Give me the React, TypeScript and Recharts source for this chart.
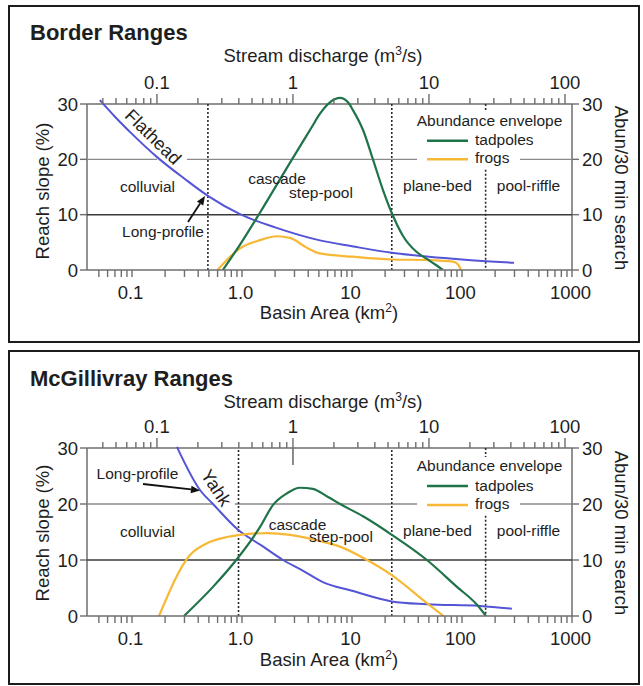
import React from 'react';
import { LineChart, Line, XAxis, YAxis, ReferenceLine } from 'recharts';

type Pt = [number, number];

// ---------- axes ----------
const areaMajorTicks = [0.1, 1, 10, 100, 1000];
const areaMajorLabels = ['0.1', '1.0', '10', '100', '1000'];
const areaMinorTicks = [
  0.05, 0.06, 0.07, 0.08, 0.09,
  0.2, 0.3, 0.4, 0.5, 0.6, 0.7, 0.8, 0.9,
  2, 3, 4, 5, 6, 7, 8, 9,
  20, 30, 40, 50, 60, 70, 80, 90,
  200, 300, 400, 500, 600, 700, 800, 900,
];
const qMajorTicks = [0.1, 1, 10, 100];
const qMajorLabels = ['0.1', '1', '10', '100'];
const qMinorTicks = [
  0.04, 0.05, 0.06, 0.07, 0.08, 0.09,
  0.2, 0.3, 0.4, 0.5, 0.6, 0.7, 0.8, 0.9,
  2, 3, 4, 5, 6, 7, 8, 9,
  20, 30, 40, 50, 60, 70, 80, 90,
];
const yTicks = [0, 10, 20, 30];

// ---------- Border Ranges ----------
const borderSlope: Pt[] = [
  [0.051, 30.7], [0.07, 27.7], [0.1, 24.6], [0.169, 20.4], [0.3, 16.5], [0.49, 13.4],
  [0.96, 10.1], [2, 7.7], [5, 5.4], [10, 4.3], [23, 3.1], [50, 2.4], [100, 1.9], [297, 1.3],
];
const borderTadpoles: Pt[] = [
  [0.67, 0], [0.96, 4.6], [1.46, 10.4], [2.85, 20], [4.3, 25.8], [5.1, 28.2], [6.3, 30.3],
  [7.8, 31.1], [9.2, 30.3], [10.2, 28.9], [12.6, 25.3], [15.5, 20], [19.1, 14.5], [23, 10.3],
  [29, 6.2], [39, 3.2], [48, 2.0], [58, 0.9], [67, 0],
];
const borderFrogs: Pt[] = [
  [0.6, 0], [0.94, 3.8], [1.46, 5.4], [2.08, 6.1], [2.73, 5.8], [3.9, 4.0], [5.1, 3.0],
  [10.2, 2.4], [23, 1.9], [50, 1.8], [83, 1.5], [92, 1.0], [98, 0],
];
const borderBoundaries = [0.49, 23, 164];

// ---------- McGillivray Ranges ----------
const mcgSlope: Pt[] = [
  [0.256, 30.2], [0.415, 22.5], [0.545, 20], [0.92, 15.4], [1.5, 12.6], [2.36, 10],
  [3.5, 8.2], [5.5, 6.0], [10, 4.5], [23, 2.6], [48, 2.1], [146, 1.8], [284, 1.3],
];
const mcgTadpoles: Pt[] = [
  [0.297, 0], [0.545, 5.2], [0.92, 10.4], [1.46, 15.9], [1.91, 19.8], [2.56, 21.9],
  [3.37, 22.9], [4.4, 22.7], [6, 21.3], [7.8, 20], [12.6, 17.8], [23, 14.5], [48, 10],
  [90, 5.2], [137, 2.0], [165, 0],
];
const mcgFrogs: Pt[] = [
  [0.176, 0], [0.337, 10.9], [0.48, 13], [0.73, 14.1], [0.96, 14.5], [1.69, 14.8],
  [2.73, 14.5], [5.1, 13.4], [8, 12.3], [12.6, 10.4], [23, 7.3], [48, 2.3], [68, 0],
];
const mcgBoundaries = [0.93, 23, 164];

// ---------- styles ----------
const FONT = "'Liberation Sans', Arial, Helvetica, sans-serif";
const AXIS = '#6e6e6e';
const GRID20 = '#8a8a8a';
const GRID10 = '#3a3a3a';
const DOT = '#2a2a2a';
const TXT = '#1e1e1e';
const BLUE = '#5454d6';
const GREEN = '#1f7348';
const YELLOW = '#f7b835';
const TICK_FS = 18.5;
const AREA_MIN = 0.039;
const AREA_MAX = 1000;
const Q_MIN = 0.0306;
const Q_MAX = 112.6;

const allAreaTicks = [...areaMajorTicks, ...areaMinorTicks].sort((a, b) => a - b);
const allQTicks = [...qMajorTicks, ...qMinorTicks].sort((a, b) => a - b);
const toRows = (s: Pt[]) => s.map(([a, v]) => ({ a, v }));
const dischargeRows = qMajorTicks.map((q) => ({ q }));

const BottomTick = (p: any) => {
  const v = p.payload.value;
  const i = areaMajorTicks.indexOf(v);
  return (
    <g>
      <line x1={p.x} x2={p.x} y1={p.y} y2={p.y + 7} stroke={AXIS} strokeWidth={1.4} />
      {i >= 0 && (
        <text x={p.x - 1.5} y={p.y + 29} textAnchor="middle" fontSize={TICK_FS} fill={TXT} fontFamily={FONT}>
          {areaMajorLabels[i]}
        </text>
      )}
    </g>
  );
};

const makeTopTick = (shift: number, longAt?: number) => (p: any) => {
  const v = p.payload.value;
  const i = qMajorTicks.indexOf(v);
  const y0 = p.y + shift;
  const major = i >= 0;
  return (
    <g>
      <line x1={p.x} x2={p.x} y1={y0} y2={y0 - (major ? 10 : 6)} stroke={AXIS} strokeWidth={1.4} />
      {longAt === v && <line x1={p.x} x2={p.x} y1={y0} y2={y0 + 17} stroke={AXIS} strokeWidth={1.6} />}
      {major && (
        <text x={p.x} y={y0 - 15} textAnchor="middle" fontSize={TICK_FS} fill={TXT} fontFamily={FONT}>
          {qMajorLabels[i]}
        </text>
      )}
    </g>
  );
};

const LeftTick = (p: any) => (
  <g>
    <line x1={p.x} x2={p.x - 7} y1={p.y} y2={p.y} stroke={AXIS} strokeWidth={1.4} />
    <text x={p.x - 9} y={p.y + 6.5} textAnchor="end" fontSize={TICK_FS} fill={TXT} fontFamily={FONT}>
      {p.payload.value}
    </text>
  </g>
);

const RightTick = (p: any) => (
  <g>
    <line x1={p.x} x2={p.x + 7} y1={p.y} y2={p.y} stroke={AXIS} strokeWidth={1.4} />
    <text x={p.x + 10} y={p.y + 6.5} textAnchor="start" fontSize={TICK_FS} fill={TXT} fontFamily={FONT}>
      {p.payload.value}
    </text>
  </g>
);

interface PanelProps {
  top: number;
  height: number;
  y30: number;
  y0: number;
  slope: Pt[];
  tad: Pt[];
  frog: Pt[];
  bounds: number[];
  grid20: [number, number][];
  b3: [number, number][];
  longQ?: number;
}

function Panel({ top, height, y30, y0, slope, tad, frog, bounds, grid20, b3, longQ }: PanelProps) {
  const unit = (y0 - y30) / 30;
  const plotTop = y30 - 2 * unit;
  const mt = plotTop - top - 30;
  const mb = top + height - y0 - 30;
  const topTick = makeTopTick(2 * unit, longQ);
  const ids = { xAxisId: 'a', yAxisId: 'l' } as const;
  return (
    <div style={{ position: 'absolute', left: 0, top, width: 643, height }}>
      <LineChart width={643} height={height} data={dischargeRows} margin={{ top: mt, right: 11, bottom: mb, left: 27 }}>
        <XAxis
          xAxisId="a" dataKey="a" type="number" scale="log" domain={[AREA_MIN, AREA_MAX]}
          allowDataOverflow ticks={allAreaTicks} interval={0} tickSize={0} tickMargin={0}
          tick={(p: any) => <BottomTick {...p} />} axisLine={{ stroke: AXIS, strokeWidth: 1.5 }} height={30}
        />
        <XAxis
          xAxisId="q" dataKey="q" orientation="top" type="number" scale="log" domain={[Q_MIN, Q_MAX]}
          allowDataOverflow ticks={allQTicks} interval={0} tickSize={0} tickMargin={0}
          tick={(p: any) => topTick(p)} axisLine={false} height={30}
        />
        <YAxis
          yAxisId="l" type="number" domain={[0, 32]} allowDataOverflow ticks={yTicks} interval={0}
          tickSize={0} tickMargin={0} tick={(p: any) => <LeftTick {...p} />} axisLine={false} width={60}
        />
        <YAxis
          yAxisId="r" orientation="right" type="number" domain={[0, 32]} allowDataOverflow ticks={yTicks}
          interval={0} tickSize={0} tickMargin={0} tick={(p: any) => <RightTick {...p} />} axisLine={false} width={60}
        />
        {/* frame */}
        <ReferenceLine {...ids} y={30} stroke={AXIS} strokeWidth={1.5} ifOverflow="visible" />
        <ReferenceLine {...ids} segment={[{ x: AREA_MIN, y: 0 }, { x: AREA_MIN, y: 30 }]} stroke={AXIS} strokeWidth={1.5} ifOverflow="visible" />
        <ReferenceLine {...ids} segment={[{ x: AREA_MAX, y: 0 }, { x: AREA_MAX, y: 30 }]} stroke={AXIS} strokeWidth={1.5} ifOverflow="visible" />
        {/* grid */}
        <ReferenceLine {...ids} y={10} stroke={GRID10} strokeWidth={1.5} ifOverflow="visible" />
        {grid20.map(([x1, x2], k) => (
          <ReferenceLine key={'g' + k} {...ids} segment={[{ x: x1, y: 20 }, { x: x2, y: 20 }]} stroke={GRID20} strokeWidth={1.4} ifOverflow="visible" />
        ))}
        {/* channel-type boundaries */}
        {bounds.slice(0, 2).map((b, k) => (
          <ReferenceLine key={'b' + k} {...ids} segment={[{ x: b, y: 0 }, { x: b, y: 30 }]} stroke={DOT} strokeWidth={1.6} strokeDasharray="2 2" ifOverflow="visible" />
        ))}
        {b3.map(([ya, yb], k) => (
          <ReferenceLine key={'c' + k} {...ids} segment={[{ x: bounds[2], y: ya }, { x: bounds[2], y: yb }]} stroke={DOT} strokeWidth={1.6} strokeDasharray="2 2" ifOverflow="visible" />
        ))}
        <Line data={toRows(slope)} dataKey="v" xAxisId="a" yAxisId="l" type="monotone" stroke={BLUE} strokeWidth={2} dot={false} isAnimationActive={false} />
        <Line data={toRows(frog)} dataKey="v" xAxisId="a" yAxisId="r" type="monotone" stroke={YELLOW} strokeWidth={2.2} dot={false} isAnimationActive={false} />
        <Line data={toRows(tad)} dataKey="v" xAxisId="a" yAxisId="r" type="monotone" stroke={GREEN} strokeWidth={2.2} dot={false} isAnimationActive={false} />
      </LineChart>
    </div>
  );
}

function Arrow({ x1, y1, x2, y2 }: { x1: number; y1: number; x2: number; y2: number }) {
  const dx = x2 - x1;
  const dy = y2 - y1;
  const len = Math.hypot(dx, dy);
  const ux = dx / len;
  const uy = dy / len;
  const bx = x2 - 9 * ux;
  const by = y2 - 9 * uy;
  const px = -uy;
  const py = ux;
  return (
    <g>
      <line x1={x1} y1={y1} x2={bx} y2={by} stroke="#111" strokeWidth={1.8} />
      <polygon points={`${x2},${y2} ${bx + 3.8 * px},${by + 3.8 * py} ${bx - 3.8 * px},${by - 3.8 * py}`} fill="#111" />
    </g>
  );
}

function Legend({ yTitle, yTad, yFrog }: { yTitle: number; yTad: number; yFrog: number }) {
  return (
    <g fontSize={15.5}>
      <text x={489.5} y={yTitle} textAnchor="middle">Abundance envelope</text>
      <line x1={427} x2={468} y1={yTad} y2={yTad} stroke={GREEN} strokeWidth={2.6} />
      <text x={475} y={yTad + 4.5}>tadpoles</text>
      <line x1={427} x2={468} y1={yFrog} y2={yFrog} stroke={YELLOW} strokeWidth={2.6} />
      <text x={475} y={yFrog + 4}>frogs</text>
    </g>
  );
}

function Titles({ dy, title }: { dy: number; title: string }) {
  return (
    <g>
      <text x={30} y={40 + dy} fontSize={22} fontWeight="bold">{title}</text>
      <text x={323} y={62 + dy} fontSize={18.5} textAnchor="middle">
        Stream discharge (m<tspan dy={-7} fontSize={12}>3</tspan><tspan dy={7}>/s)</tspan>
      </text>
    </g>
  );
}

function Overlay() {
  return (
    <svg width={643} height={686} style={{ position: 'absolute', left: 0, top: 0, pointerEvents: 'none' }} fontFamily={FONT} fill={TXT}>
      {/* Border Ranges */}
      <Titles dy={0} title="Border Ranges" />
      <text x={329} y={319} fontSize={18.5} textAnchor="middle">
        Basin Area (km<tspan dy={-7} fontSize={12}>2</tspan><tspan dy={7}>)</tspan>
      </text>
      <text transform="translate(49,191) rotate(-90)" fontSize={18.5} textAnchor="middle">Reach slope (%)</text>
      <text transform="translate(615,188) rotate(90)" fontSize={18.5} textAnchor="middle">Abun/30 min search</text>
      <text transform="translate(153,137) rotate(44.5)" fontSize={18} textAnchor="middle" dominantBaseline="central">Flathead</text>
      <g fontSize={15.5} textAnchor="middle">
        <text x={147.5} y={192}>colluvial</text>
        <text x={163} y={237}>Long-profile</text>
        <text x={277} y={184}>cascade</text>
        <text x={321} y={198}>step-pool</text>
        <text x={437.5} y={191}>plane-bed</text>
        <text x={528.5} y={191}>pool-riffle</text>
      </g>
      <Arrow x1={188} y1={222} x2={205} y2={196} />
      <Legend yTitle={126} yTad={140.7} yFrog={159.3} />

      {/* McGillivray Ranges */}
      <Titles dy={346} title="McGillivray Ranges" />
      <text x={329} y={665.5} fontSize={18.5} textAnchor="middle">
        Basin Area (km<tspan dy={-7} fontSize={12}>2</tspan><tspan dy={7}>)</tspan>
      </text>
      <text transform="translate(49,533) rotate(-90)" fontSize={18.5} textAnchor="middle">Reach slope (%)</text>
      <text transform="translate(615,533) rotate(90)" fontSize={18.5} textAnchor="middle">Abun/30 min search</text>
      <text transform="translate(216,488) rotate(57)" fontSize={18} textAnchor="middle" dominantBaseline="central">Yahk</text>
      <g fontSize={15.5} textAnchor="middle">
        <text x={137.5} y={479}>Long-profile</text>
        <text x={147.5} y={537}>colluvial</text>
        <text x={297.5} y={529.5}>cascade</text>
        <text x={341} y={542}>step-pool</text>
        <text x={437.5} y={536}>plane-bed</text>
        <text x={528.5} y={536}>pool-riffle</text>
      </g>
      <Arrow x1={143} y1={484} x2={200} y2={490.5} />
      <Legend yTitle={471} yTad={486} yFrog={505} />
    </svg>
  );
}

export default function App() {
  return (
    <div style={{ position: 'absolute', left: 0, top: 0, width: 643, height: 686, background: '#fff', fontFamily: FONT, overflow: 'hidden' }}>
      <div style={{ position: 'absolute', left: 8, top: 5, width: 632, height: 338, border: '2.5px solid #1c1c1c', boxSizing: 'border-box' }} />
      <div style={{ position: 'absolute', left: 8, top: 350, width: 632, height: 335, border: '2.5px solid #1c1c1c', boxSizing: 'border-box' }} />
      <Panel
        top={0} height={343} y30={104} y0={270}
        slope={borderSlope} tad={borderTadpoles} frog={borderFrogs} bounds={borderBoundaries}
        grid20={[[AREA_MIN, 0.169], [0.316, 39], [337, AREA_MAX]]}
        b3={[[30, 28.7], [18.1, 0]]}
      />
      <Panel
        top={344} height={342} y30={448} y0={616}
        slope={mcgSlope} tad={mcgTadpoles} frog={mcgFrogs} bounds={mcgBoundaries}
        grid20={[[AREA_MIN, 0.545], [0.86, 39], [337, AREA_MAX]]}
        b3={[[30, 28.4], [17.9, 0]]}
        longQ={1}
      />
      <Overlay />
    </div>
  );
}
